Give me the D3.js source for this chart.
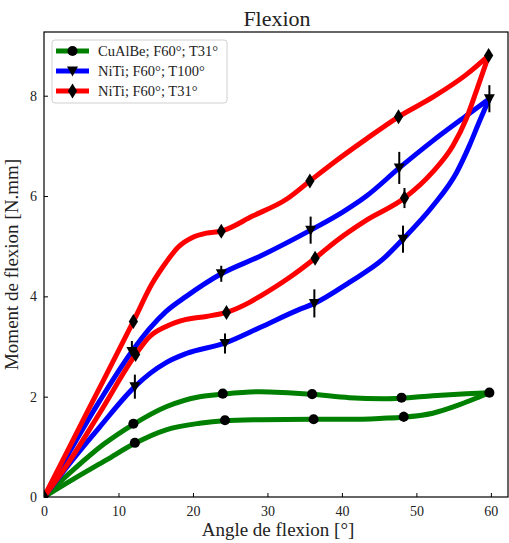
<!DOCTYPE html>
<html>
<head>
<meta charset="utf-8">
<script src="https://cdn.jsdelivr.net/npm/d3@7"></script>
<style>
  html, body { margin: 0; padding: 0; background: #fff; }
  svg { display: block; }
  text { font-family: "Liberation Serif", "DejaVu Serif", serif; fill: #222; }
</style>
</head>
<body>
<svg id="chart" width="509" height="543"></svg>
<script>
// ---------- Data ----------
const chartTitle = "Flexion";
const xLabel = "Angle de flexion [°]";
const yLabel = "Moment de flexion [N.mm]";
const xTicks = [0, 10, 20, 30, 40, 50, 60];
const yTicks = [0, 2, 4, 6, 8];
const seriesNames = ["CuAlBe; F60°; T31°", "NiTi; F60°; T100°", "NiTi; F60°; T31°"];
const seriesColors = ["#008000", "#0000ff", "#ff0000"];
const seriesMarkers = ["circle", "triangleDown", "diamond"];

// Curves: loading (upper) and unloading (lower) branches
const cuAlBeLoadX   = [0, 4, 8, 12, 16.4, 20.9, 23.9, 29, 35.9, 41, 45.5, 47.9, 52.2, 56.7, 59.8];
const cuAlBeLoadY   = [0, 0.55, 1.05, 1.45, 1.8, 2.0, 2.05, 2.1, 2.05, 1.98, 1.96, 1.97, 2.02, 2.06, 2.08];
const cuAlBeUnloadX = [0, 4, 8.4, 12.2, 16.4, 20.9, 24.2, 29, 36.1, 41, 45.5, 48.2, 52.2, 55.8, 58.5, 59.8];
const cuAlBeUnloadY = [0, 0.36, 0.74, 1.07, 1.34, 1.47, 1.52, 1.54, 1.55, 1.55, 1.57, 1.59, 1.67, 1.84, 2.0, 2.08];

const niTi100LoadX   = [0, 7.5, 11.8, 14.2, 16.4, 19.1, 23.8, 29, 35.8, 40.1, 43.3, 47.7, 52.2, 56.7, 59.8];
const niTi100LoadY   = [0, 1.92, 2.9, 3.36, 3.7, 4.0, 4.45, 4.8, 5.32, 5.68, 6.0, 6.56, 7.1, 7.6, 7.94];
const niTi100UnloadX = [0, 3.5, 7.5, 12.2, 14.2, 16.4, 19.1, 24.3, 29, 34.3, 36.3, 41, 45.5, 48.2, 52.2, 55.4, 57.1, 58.5, 59.8];
const niTi100UnloadY = [0, 0.68, 1.4, 2.2, 2.46, 2.68, 2.86, 3.07, 3.38, 3.74, 3.86, 4.28, 4.74, 5.14, 5.8, 6.47, 7.0, 7.5, 7.94];

const niTi31LoadX   = [0, 6, 12, 14.5, 16.4, 18, 20, 21.8, 23.8, 28, 32.6, 35.7, 39, 43.3, 47.6, 52.2, 56.7, 59.7];
const niTi31LoadY   = [0, 1.75, 3.5, 4.25, 4.68, 4.98, 5.18, 5.26, 5.3, 5.6, 5.94, 6.3, 6.68, 7.14, 7.58, 7.97, 8.42, 8.8];
const niTi31UnloadX = [0, 3, 7.5, 12.3, 14.2, 16.4, 19.1, 21.8, 24.5, 27.6, 29, 33, 36.4, 39.2, 43.3, 48.4, 52.2, 54.9, 56.7, 58, 59.7];
const niTi31UnloadY = [0, 0.62, 1.68, 2.84, 3.2, 3.4, 3.54, 3.6, 3.68, 3.88, 4.0, 4.38, 4.76, 5.1, 5.52, 5.96, 6.48, 7.0, 7.54, 8.07, 8.8];

// Measured points with error bars
const cuAlBePtsX = [0, 12, 24, 36, 48, 59.8, 12.2, 24.3, 36.2, 48.3];
const cuAlBePtsY = [0, 1.46, 2.06, 2.05, 1.98, 2.08, 1.08, 1.53, 1.55, 1.6];
const cuAlBeErr  = [0.03, 0.04, 0.05, 0.05, 0.06, 0.08, 0.08, 0.04, 0.04, 0.1];

const niTi100PtsX = [0, 11.8, 23.8, 35.8, 47.7, 59.8, 12.2, 24.3, 36.3, 48.2];
const niTi100PtsY = [0, 2.9, 4.45, 5.32, 6.56, 7.94, 2.2, 3.06, 3.86, 5.14];
const niTi100Err  = [0.02, 0.21, 0.16, 0.27, 0.32, 0.27, 0.24, 0.2, 0.28, 0.27];

const niTi31PtsX = [0, 12, 23.8, 35.7, 47.6, 59.7, 12.3, 24.5, 36.4, 48.4];
const niTi31PtsY = [0, 3.5, 5.3, 6.3, 7.58, 8.8, 2.84, 3.68, 4.76, 5.96];
const niTi31Err  = [0.03, 0.05, 0.06, 0.06, 0.08, 0.08, 0.1, 0.07, 0.1, 0.2];

// ---------- Layout ----------
const W = 509, H = 543;
const margin = { left: 44, right: 1, top: 32, bottom: 46 };
const svg = d3.select("#chart");
const x = d3.scaleLinear().domain([0, 62.3]).range([margin.left, W - margin.right]);
const y = d3.scaleLinear().domain([0, 9.27]).range([H - margin.bottom, margin.top]);

svg.append("defs").append("clipPath").attr("id", "plotclip")
  .append("rect")
  .attr("x", margin.left).attr("y", margin.top)
  .attr("width", W - margin.left - margin.right)
  .attr("height", H - margin.top - margin.bottom);

const zip = (xs, ys) => xs.map((v, i) => [v, ys[i]]);
const series = [
  { load: zip(cuAlBeLoadX, cuAlBeLoadY), unload: zip(cuAlBeUnloadX, cuAlBeUnloadY), px: cuAlBePtsX, py: cuAlBePtsY, err: cuAlBeErr },
  { load: zip(niTi100LoadX, niTi100LoadY), unload: zip(niTi100UnloadX, niTi100UnloadY), px: niTi100PtsX, py: niTi100PtsY, err: niTi100Err },
  { load: zip(niTi31LoadX, niTi31LoadY), unload: zip(niTi31UnloadX, niTi31UnloadY), px: niTi31PtsX, py: niTi31PtsY, err: niTi31Err }
];

const line = d3.line().x(d => x(d[0])).y(d => y(d[1])).curve(d3.curveMonotoneX);

function markerPath(type) {
  if (type === "circle") return d3.symbol(d3.symbolCircle, 80)();
  if (type === "triangleDown") return "M-5.5,-4.5L5.5,-4.5L0,5.5Z";
  if (type === "diamond") return "M0,-7.5L4.6,0L0,7.5L-4.6,0Z";
}

const plot = svg.append("g").attr("clip-path", "url(#plotclip)");

series.forEach((s, i) => {
  const g = plot.append("g");
  [s.load, s.unload].forEach(branch => {
    g.append("path").datum(branch)
      .attr("d", line)
      .attr("fill", "none")
      .attr("stroke", seriesColors[i])
      .attr("stroke-width", 5)
      .attr("stroke-linejoin", "round")
      .attr("stroke-linecap", "round");
  });
  const pts = s.px.map((v, k) => ({ x: v, y: s.py[k], e: s.err[k] }));
  g.selectAll("line.err").data(pts).join("line")
    .attr("x1", d => x(d.x)).attr("x2", d => x(d.x))
    .attr("y1", d => y(d.y - d.e)).attr("y2", d => y(d.y + d.e))
    .attr("stroke", "#000").attr("stroke-width", 2);
  g.selectAll("path.mk").data(pts).join("path")
    .attr("d", markerPath(seriesMarkers[i]))
    .attr("transform", d => `translate(${x(d.x)},${y(d.y)})`)
    .attr("fill", "#000");
});

// ---------- Axes frame ----------
svg.append("rect")
  .attr("x", margin.left).attr("y", margin.top)
  .attr("width", W - margin.left - margin.right)
  .attr("height", H - margin.top - margin.bottom)
  .attr("fill", "none").attr("stroke", "#000").attr("stroke-width", 1.2);

const xAxis = d3.axisBottom(x).tickValues(xTicks).tickSizeInner(-4).tickSizeOuter(0).tickPadding(9);
const gx = svg.append("g").attr("transform", `translate(0,${H - margin.bottom})`).call(xAxis);
gx.select(".domain").remove();
gx.selectAll("text").attr("font-size", 14).attr("font-family", "Liberation Serif").attr("fill", "#222");

const yAxis = d3.axisLeft(y).tickValues(yTicks).tickSizeInner(-4).tickSizeOuter(0).tickPadding(7);
const gy = svg.append("g").attr("transform", `translate(${margin.left},0)`).call(yAxis);
gy.select(".domain").remove();
gy.selectAll("text").attr("font-size", 14).attr("font-family", "Liberation Serif").attr("fill", "#222");

// ---------- Labels ----------
svg.append("text").attr("x", 277).attr("y", 26).attr("text-anchor", "middle")
  .attr("font-size", 22).text(chartTitle);
svg.append("text").attr("x", 278).attr("y", 536).attr("text-anchor", "middle")
  .attr("font-size", 19).text(xLabel);
svg.append("text").attr("transform", `translate(18,${(margin.top + H - margin.bottom) / 2}) rotate(-90)`)
  .attr("text-anchor", "middle").attr("font-size", 19).text(yLabel);

// ---------- Legend ----------
const lg = svg.append("g");
lg.append("rect").attr("x", 52).attr("y", 40).attr("width", 175).attr("height", 63)
  .attr("rx", 3).attr("fill", "#fff").attr("fill-opacity", 0.85)
  .attr("stroke", "#d0d0d0").attr("stroke-width", 1);
seriesNames.forEach((name, i) => {
  const cy = 51 + i * 20;
  lg.append("line").attr("x1", 56).attr("x2", 89).attr("y1", cy).attr("y2", cy)
    .attr("stroke", seriesColors[i]).attr("stroke-width", 5);
  lg.append("path").attr("d", markerPath(seriesMarkers[i]))
    .attr("transform", `translate(72.5,${cy})`).attr("fill", "#000");
  lg.append("text").attr("x", 98).attr("y", cy + 5).attr("font-size", 14.5).text(name);
});
</script>
</body>
</html>
